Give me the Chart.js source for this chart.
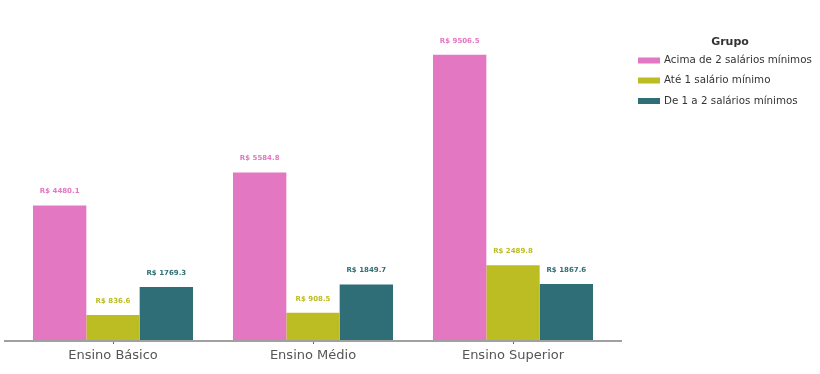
<!DOCTYPE html>
<html>
<head>
<meta charset="utf-8">
<script src="https://cdn.jsdelivr.net/npm/chart.js@4"></script>
<style>
html,body{margin:0;padding:0;background:#fff;}
#wrap{width:820px;height:374px;}
</style>
</head>
<body>
<div id="wrap"><canvas id="c" width="820" height="374"></canvas></div>
<script>
const categories = ["Ensino Básico", "Ensino Médio", "Ensino Superior"];
const seriesNames = ["Acima de 2 salários mínimos", "Até 1 salário mínimo", "De 1 a 2 salários mínimos"];
const acima2 = [4480.1, 5584.8, 9506.5];
const ate1 = [836.6, 908.5, 2489.8];
const de1a2 = [1769.3, 1849.7, 1867.6];
const colors = ["#e377c2", "#bcbd22", "#2f6e76"];
const legendTitle = "Grupo";
const FONT = "'DejaVu Sans', sans-serif";

const valueLabels = {
  id: 'valueLabels',
  afterDatasetsDraw(chart) {
    const ctx = chart.ctx;
    ctx.save();
    ctx.font = "bold 7px " + FONT;
    ctx.textAlign = 'center';
    ctx.textBaseline = 'middle';
    chart.data.datasets.forEach((ds, i) => {
      const meta = chart.getDatasetMeta(i);
      meta.data.forEach((bar, j) => {
        ctx.fillStyle = ds.backgroundColor;
        ctx.fillText('R$ ' + ds.data[j].toFixed(1), bar.x, bar.y - 14);
      });
    });
    ctx.restore();
  }
};

const axisLine = {
  id: 'axisLine',
  afterDraw(chart) {
    const ctx = chart.ctx, a = chart.chartArea;
    ctx.save();
    ctx.strokeStyle = '#a0a0a0';
    ctx.lineWidth = 2;
    ctx.beginPath();
    ctx.moveTo(a.left - 9, a.bottom + 1);
    ctx.lineTo(a.right + 9, a.bottom + 1);
    ctx.stroke();
    ctx.restore();
  }
};

const customLegend = {
  id: 'customLegend',
  afterDraw(chart) {
    const ctx = chart.ctx;
    ctx.save();
    ctx.fillStyle = '#333';
    ctx.font = "bold 11px " + FONT;
    ctx.textAlign = 'center';
    ctx.textBaseline = 'middle';
    ctx.fillText(legendTitle, 730, 42);
    ctx.font = "10.3px " + FONT;
    ctx.textAlign = 'left';
    const rows = [60.5, 80.5, 101];
    chart.data.datasets.forEach((ds, i) => {
      ctx.fillStyle = ds.backgroundColor;
      ctx.fillRect(638, rows[i] - 3, 22, 6);
      ctx.fillStyle = '#333';
      ctx.fillText(ds.label, 664, rows[i]);
    });
    ctx.restore();
  }
};

new Chart(document.getElementById('c'), {
  type: 'bar',
  data: {
    labels: categories,
    datasets: [
      { label: seriesNames[0], data: acima2, backgroundColor: colors[0] },
      { label: seriesNames[1], data: ate1, backgroundColor: colors[1] },
      { label: seriesNames[2], data: de1a2, backgroundColor: colors[2] }
    ]
  },
  options: {
    responsive: false,
    animation: false,
    devicePixelRatio: 1,
    layout: { padding: { left: 13, right: 207, top: 40, bottom: 0 } },
    datasets: { bar: { categoryPercentage: 0.8, barPercentage: 1.0 } },
    plugins: { legend: { display: false }, tooltip: { enabled: false } },
    scales: {
      x: {
        grid: { display: true, drawOnChartArea: false, drawTicks: true, tickLength: 4, offset: false, color: '#666' },
        border: { display: false },
        ticks: { color: '#555', font: { family: FONT, size: 13 }, padding: 4 },
        afterFit(scale) { scale.height = 34; }
      },
      y: {
        display: false,
        min: 0,
        max: 10000
      }
    }
  },
  plugins: [valueLabels, axisLine, customLegend]
});
</script>
</body>
</html>
